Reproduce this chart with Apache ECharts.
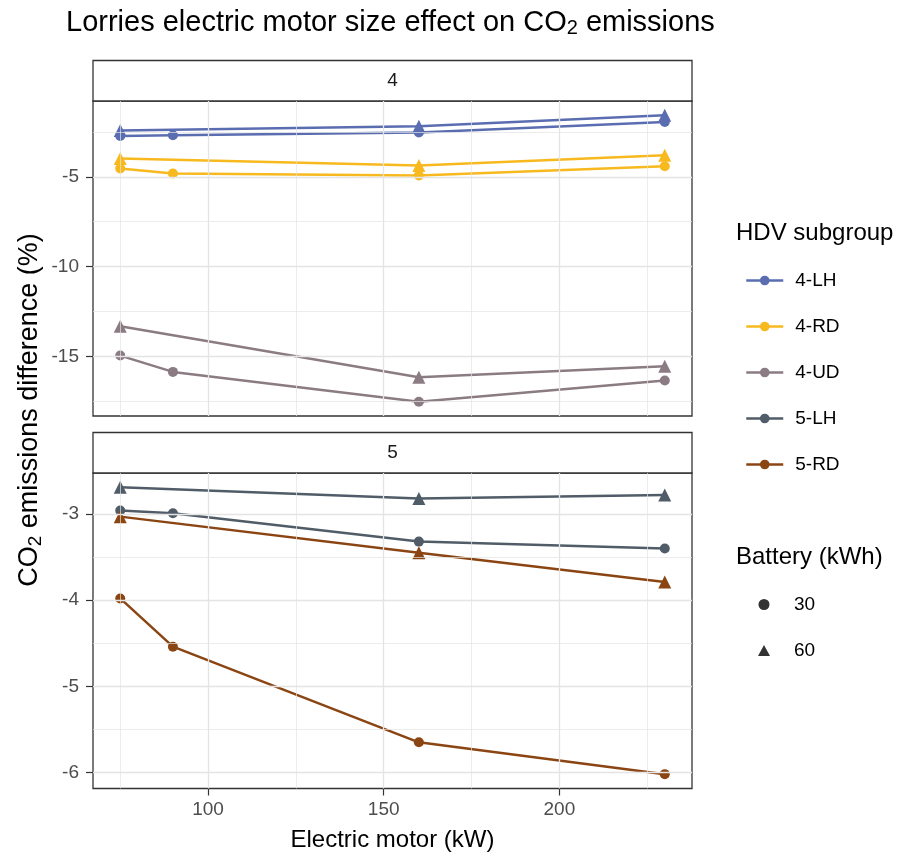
<!DOCTYPE html>
<html lang="en">
<head>
    <meta charset="UTF-8">
    <title>Lorries electric motor size effect on CO2 emissions</title>
    <script src="https://cdn.jsdelivr.net/npm/echarts@6/dist/echarts.min.js"></script>
    <style>
        html, body { margin: 0; padding: 0; background: #fff; }
        #chart { width: 897px; height: 852px; }
    </style>
</head>
<body>
<div id="chart"></div>
<script type="text/javascript">
    // motor sizes (kW) per battery size
    var motor30 = [75, 90, 160, 230];
    var motor60 = [75, 160, 230];

    // CO2 emissions difference (%)
    var lh4_30 = [-2.72, -2.68, -2.53, -1.94];
    var lh4_60 = [-2.41, -2.18, -1.57];
    var rd4_30 = [-4.53, -4.81, -4.92, -4.41];
    var rd4_60 = [-3.98, -4.37, -3.79];
    var ud4_30 = [-14.96, -15.87, -17.53, -16.35];
    var ud4_60 = [-13.33, -16.17, -15.56];
    var lh5_30 = [-2.96, -2.99, -3.32, -3.40];
    var lh5_60 = [-2.69, -2.82, -2.78];
    var rd5_30 = [-3.98, -4.54, -5.65, -6.02];
    var rd5_60 = [-3.03, -3.45, -3.79];

    var subgroups = ['4-LH', '4-RD', '4-UD', '5-LH', '5-RD'];
    var batteries = ['30', '60'];

    // tick values
    var xTicks = [100, 150, 200];
    var xMinor = [75, 125, 175, 225];
    var topTicks = [-15, -10, -5];
    var topMinor = [-17.5, -12.5, -7.5, -2.5];
    var botTicks = [-6, -5, -4, -3];
    var botMinor = [-5.5, -4.5, -3.5];

    var colors = {
        '4-LH': '#5b6db1',
        '4-RD': '#f7b91e',
        '4-UD': '#8b7b83',
        '5-LH': '#505c67',
        '5-RD': '#8b4513'
    };
    var FONT = '"Liberation Sans", Arial, sans-serif';

    // ggplot style 5% expansion
    function expand(arrs) {
        var all = [].concat.apply([], arrs);
        var lo = Math.min.apply(null, all), hi = Math.max.apply(null, all);
        var pad = (hi - lo) * 0.05;
        return [lo - pad, hi + pad];
    }
    var xr = expand([motor30, motor60]);
    var topR = expand([lh4_30, lh4_60, rd4_30, rd4_60, ud4_30, ud4_60]);
    var botR = expand([lh5_30, lh5_60, rd5_30, rd5_60]);

    function pairs(xs, ys) {
        return xs.map(function (x, i) { return [x, ys[i]]; });
    }

    function lineSeries(name, xs, ys, sym, g) {
        return {
            type: 'line',
            name: name,
            xAxisIndex: g,
            yAxisIndex: g,
            data: pairs(xs, ys),
            symbol: sym,
            symbolSize: sym === 'circle' ? 10 : 13,
            color: colors[name],
            lineStyle: { width: 2.5, color: colors[name] },
            itemStyle: { color: colors[name] },
            z: 3
        };
    }

    function gridLines(g, yMajor, yMinor) {
        var items = [];
        xTicks.forEach(function (v) { items.push({ xAxis: v, lineStyle: { width: 1.3 } }); });
        xMinor.forEach(function (v) { items.push({ xAxis: v, lineStyle: { width: 0.7 } }); });
        yMajor.forEach(function (v) { items.push({ yAxis: v, lineStyle: { width: 1.3 } }); });
        yMinor.forEach(function (v) { items.push({ yAxis: v, lineStyle: { width: 0.7 } }); });
        return {
            type: 'line',
            name: 'grid' + g,
            xAxisIndex: g,
            yAxisIndex: g,
            data: [],
            silent: true,
            z: 1,
            markLine: {
                silent: true,
                animation: false,
                symbol: ['none', 'none'],
                label: { show: false },
                lineStyle: { color: '#e4e4e4', type: 'solid' },
                data: items
            }
        };
    }

    var labelStyle = { fontSize: 19, color: '#4d4d4d', fontFamily: FONT };
    var tickStyle = { length: 7, lineStyle: { color: '#333', width: 1.2 } };

    var option = {
        animation: false,
        textStyle: { fontFamily: FONT },
        grid: [
            { left: 93, top: 101, width: 599, height: 315, show: true, borderColor: '#333', borderWidth: 1.3, backgroundColor: 'transparent', outerBoundsMode: 'none' },
            { left: 93, top: 473, width: 599, height: 315.5, show: true, borderColor: '#333', borderWidth: 1.3, backgroundColor: 'transparent', outerBoundsMode: 'none' }
        ],
        xAxis: [
            { type: 'value', gridIndex: 0, min: xr[0], max: xr[1], axisLine: { show: false }, axisTick: { show: false }, axisLabel: { show: false }, splitLine: { show: false } },
            {
                type: 'value', gridIndex: 1, min: xr[0], max: xr[1],
                axisLine: { show: false },
                axisTick: Object.assign({ show: true, customValues: xTicks }, tickStyle),
                axisLabel: Object.assign({ show: true, customValues: xTicks, margin: 12 }, labelStyle),
                splitLine: { show: false },
                name: 'Electric motor (kW)', nameLocation: 'middle', nameGap: 40,
                nameTextStyle: { fontSize: 24, color: '#000', fontFamily: FONT }
            }
        ],
        yAxis: [
            {
                type: 'value', gridIndex: 0, min: topR[0], max: topR[1],
                axisLine: { show: false },
                axisTick: Object.assign({ show: true, customValues: topTicks }, tickStyle),
                axisLabel: Object.assign({ show: true, customValues: topTicks, margin: 14 }, labelStyle),
                splitLine: { show: false }
            },
            {
                type: 'value', gridIndex: 1, min: botR[0], max: botR[1],
                axisLine: { show: false },
                axisTick: Object.assign({ show: true, customValues: botTicks }, tickStyle),
                axisLabel: Object.assign({ show: true, customValues: botTicks, margin: 14 }, labelStyle),
                splitLine: { show: false }
            }
        ],
        legend: [
            {
                data: subgroups,
                orient: 'vertical',
                left: 740, top: 266,
                itemWidth: 37, itemHeight: 12, itemGap: 27,
                selectedMode: false,
                lineStyle: { width: 2.5 },
                textStyle: { fontSize: 19, color: '#000', lineHeight: 12, padding: [0, 0, 0, 7], fontFamily: FONT }
            },
            {
                data: batteries,
                orient: 'vertical',
                left: 753, top: 590,
                itemWidth: 12, itemHeight: 11, itemGap: 27,
                selectedMode: false,
                textStyle: { fontSize: 19, color: '#000', lineHeight: 11, padding: [0, 0, 0, 19], fontFamily: FONT }
            }
        ],
        graphic: [
            // title
            {
                type: 'text', left: 66, top: 8,
                style: {
                    text: '{a|Lorries electric motor size effect on CO}{s|2}{a| emissions}',
                    rich: {
                        a: { fontSize: 29, fill: '#000', fontFamily: FONT },
                        s: { fontSize: 20, fill: '#000', fontFamily: FONT, padding: [12, 0, 0, 0] }
                    }
                }
            },
            // y axis title
            {
                type: 'text', x: 30, y: 410, rotation: Math.PI / 2,
                style: {
                    text: '{a|CO}{s|2}{a| emissions difference (%)}',
                    align: 'center', verticalAlign: 'middle',
                    rich: {
                        a: { fontSize: 27, fill: '#000', fontFamily: FONT },
                        s: { fontSize: 19, fill: '#000', fontFamily: FONT, padding: [12, 0, 0, 0] }
                    }
                }
            },
            // facet strips
            { type: 'rect', shape: { x: 93, y: 60.5, width: 599, height: 40.5 }, style: { fill: '#fff', stroke: '#333', lineWidth: 1.3 } },
            { type: 'text', x: 392.5, y: 81, style: { text: '4', fontSize: 19, fill: '#1a1a1a', align: 'center', verticalAlign: 'middle', fontFamily: FONT } },
            { type: 'rect', shape: { x: 93, y: 432.5, width: 599, height: 40.5 }, style: { fill: '#fff', stroke: '#333', lineWidth: 1.3 } },
            { type: 'text', x: 392.5, y: 453, style: { text: '5', fontSize: 19, fill: '#1a1a1a', align: 'center', verticalAlign: 'middle', fontFamily: FONT } },
            // legend titles
            { type: 'text', left: 736, top: 221, style: { text: 'HDV subgroup', fontSize: 24, fill: '#000', fontFamily: FONT } },
            { type: 'text', left: 736, top: 545, style: { text: 'Battery (kWh)', fontSize: 24, fill: '#000', fontFamily: FONT } }
        ],
        series: [
            gridLines(0, topTicks, topMinor),
            gridLines(1, botTicks, botMinor),
            lineSeries('4-LH', motor30, lh4_30, 'circle', 0),
            lineSeries('4-LH', motor60, lh4_60, 'triangle', 0),
            lineSeries('4-RD', motor30, rd4_30, 'circle', 0),
            lineSeries('4-RD', motor60, rd4_60, 'triangle', 0),
            lineSeries('4-UD', motor30, ud4_30, 'circle', 0),
            lineSeries('4-UD', motor60, ud4_60, 'triangle', 0),
            lineSeries('5-LH', motor30, lh5_30, 'circle', 1),
            lineSeries('5-LH', motor60, lh5_60, 'triangle', 1),
            lineSeries('5-RD', motor30, rd5_30, 'circle', 1),
            lineSeries('5-RD', motor60, rd5_60, 'triangle', 1),
            { type: 'scatter', name: '30', symbol: 'circle', data: [], color: '#000', itemStyle: { color: '#000' }, xAxisIndex: 0, yAxisIndex: 0 },
            { type: 'scatter', name: '60', symbol: 'triangle', data: [], color: '#000', itemStyle: { color: '#000' }, xAxisIndex: 0, yAxisIndex: 0 }
        ]
    };

    var myChart = echarts.init(document.getElementById('chart'));
    myChart.setOption(option);
</script>
</body>
</html>
